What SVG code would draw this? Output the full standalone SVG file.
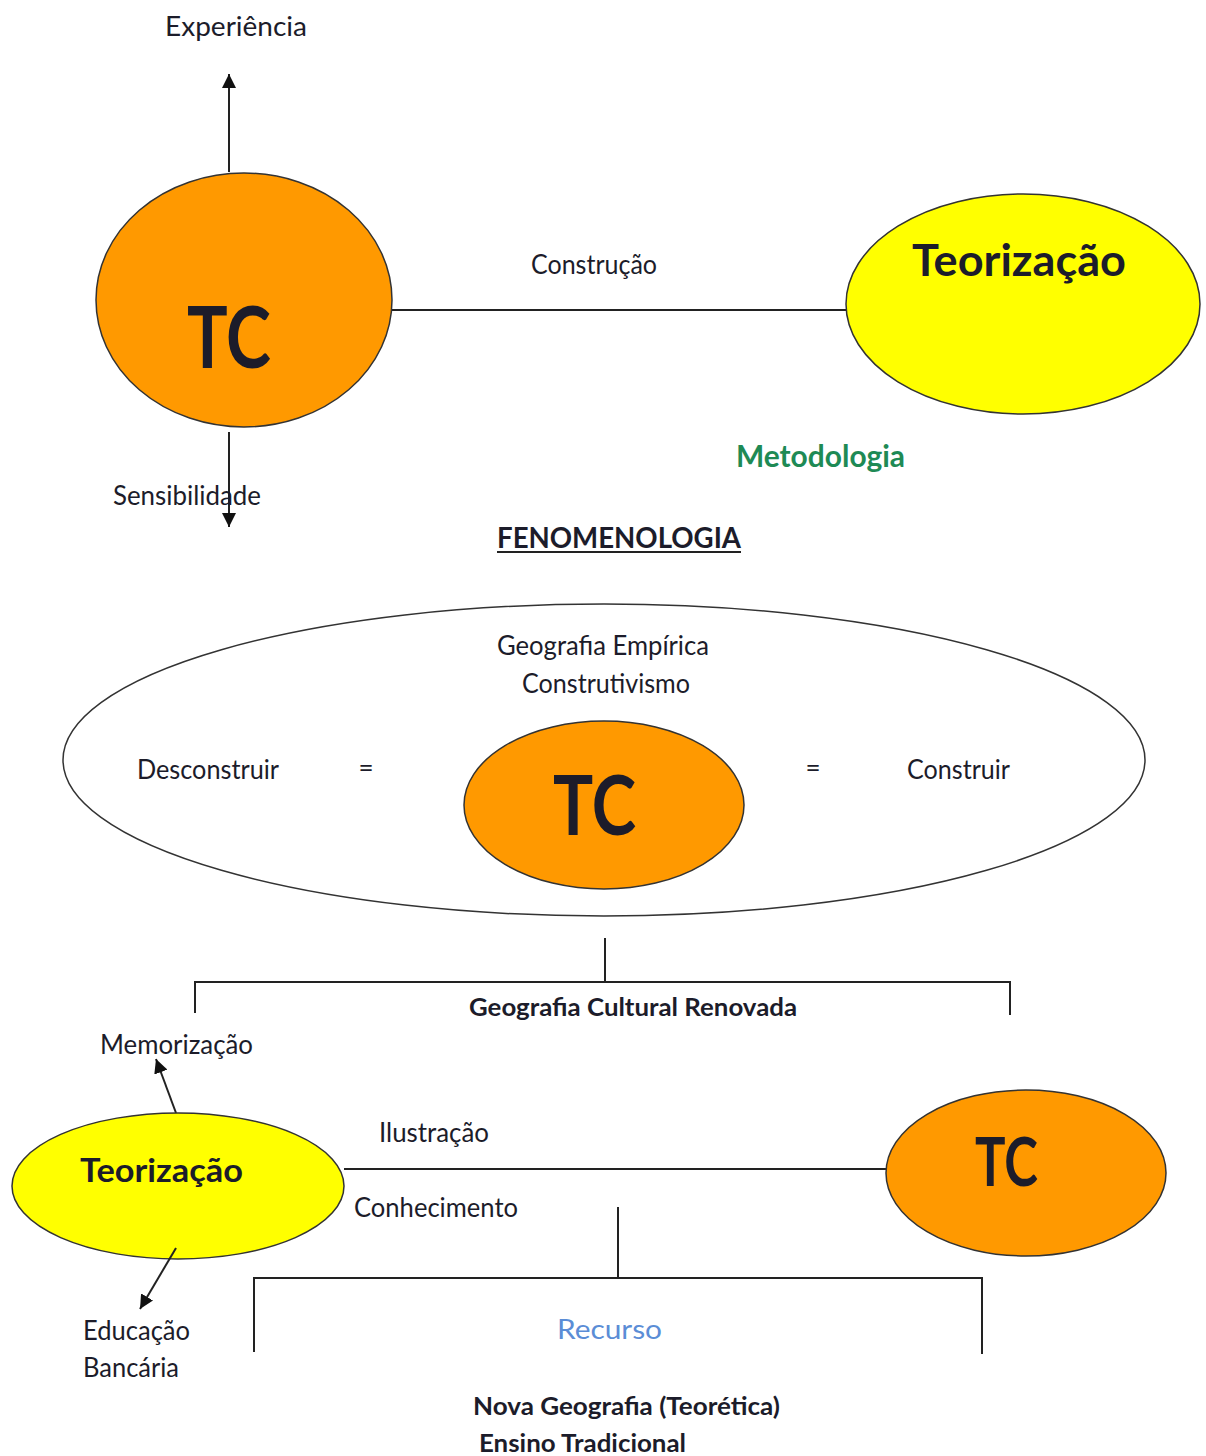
<svg xmlns="http://www.w3.org/2000/svg" width="1206" height="1456" viewBox="0 0 1206 1456">
<style>
text{font-family:Lato,"Open Sans","Liberation Sans",sans-serif;fill:#1c1c2a}
.n{font-size:26px}
.b{font-weight:bold}
.orange{fill:#FF9900;stroke:#333;stroke-width:1.5}
.yellow{fill:#FFFF00;stroke:#333;stroke-width:1.5}
.line{stroke:#222;stroke-width:2;fill:none}
</style>
<defs>
<marker id="ah" markerWidth="14" markerHeight="14" refX="12" refY="6" orient="auto" markerUnits="userSpaceOnUse" viewBox="0 0 12 12">
<path d="M0,0 L12,6 L0,12 z" fill="#111"/>
</marker>
</defs>
<rect width="1206" height="1456" fill="#fff"/>
<g id="connectors">
<line class="line" x1="229" y1="172" x2="229" y2="74" marker-end="url(#ah)"/>
<line class="line" x1="229" y1="432" x2="229" y2="527" marker-end="url(#ah)"/>
<line class="line" x1="383" y1="310" x2="848" y2="310"/>
<line class="line" x1="605" y1="938" x2="605" y2="982"/>
<polyline class="line" points="195,1013 195,982 1010,982 1010,1015"/>
<line class="line" x1="176" y1="1113" x2="156" y2="1059" marker-end="url(#ah)"/>
<line class="line" x1="344" y1="1169" x2="886" y2="1169"/>
<line class="line" x1="618" y1="1207" x2="618" y2="1278"/>
<polyline class="line" points="254,1352 254,1278 982,1278 982,1354"/>
<line x1="497" y1="552" x2="741" y2="552" stroke="#222" stroke-width="2"/>
</g>
<g id="tc-top">
<ellipse class="orange" cx="244" cy="300" rx="148" ry="127"/>
<text x="187" y="368" class="b" font-size="86" textLength="84" lengthAdjust="spacingAndGlyphs">TC</text>
</g>
<g id="teorizacao-top">
<ellipse class="yellow" cx="1023" cy="304" rx="177" ry="110"/>
<text x="912" y="276" class="b" font-size="44" textLength="214" lengthAdjust="spacingAndGlyphs">Teorização</text>
</g>
<g id="labels-top">
<text x="165" y="36" class="n" textLength="142" lengthAdjust="spacingAndGlyphs">Experiência</text>
<text x="531" y="274" class="n" textLength="126" lengthAdjust="spacingAndGlyphs">Construção</text>
<text x="736" y="467" class="b" font-size="30" style="fill:#1E8A55" textLength="169" lengthAdjust="spacingAndGlyphs">Metodologia</text>
<text x="113" y="505" class="n" textLength="148" lengthAdjust="spacingAndGlyphs">Sensibilidade</text>
<text x="497" y="548" class="b" font-size="28" textLength="244" lengthAdjust="spacingAndGlyphs">FENOMENOLOGIA</text>
</g>
<g id="big-ellipse">
<ellipse cx="604" cy="760" rx="541" ry="156" fill="#fff" stroke="#333" stroke-width="1.5"/>
<text x="497" y="655" class="n" textLength="212" lengthAdjust="spacingAndGlyphs">Geografia Empírica</text>
<text x="522" y="693" class="n" textLength="168" lengthAdjust="spacingAndGlyphs">Construtivismo</text>
<text x="137" y="779" class="n" textLength="142" lengthAdjust="spacingAndGlyphs">Desconstruir</text>
<text x="366" y="777" class="n" text-anchor="middle">=</text>
<text x="813" y="777" class="n" text-anchor="middle">=</text>
<text x="907" y="779" class="n" textLength="103" lengthAdjust="spacingAndGlyphs">Construir</text>
</g>
<g id="tc-mid">
<ellipse class="orange" cx="604" cy="805" rx="140" ry="84"/>
<text x="553" y="835" class="b" font-size="82" textLength="83" lengthAdjust="spacingAndGlyphs">TC</text>
</g>
<g id="labels-mid">
<text x="469" y="1016" class="b" font-size="25" textLength="328" lengthAdjust="spacingAndGlyphs">Geografia Cultural Renovada</text>
<text x="100" y="1054" class="n" textLength="153" lengthAdjust="spacingAndGlyphs">Memorização</text>
</g>
<g id="teorizacao-bottom">
<ellipse class="yellow" cx="178" cy="1186" rx="166" ry="73"/>
<text x="80" y="1182" class="b" font-size="33" textLength="163" lengthAdjust="spacingAndGlyphs">Teorização</text>
</g>
<g id="connector-educacao">
<line class="line" x1="176" y1="1248" x2="140" y2="1309" marker-end="url(#ah)"/>
</g>
<g id="tc-bottom">
<ellipse class="orange" cx="1026" cy="1173" rx="140" ry="83"/>
<text x="975" y="1186" class="b" font-size="66" textLength="63" lengthAdjust="spacingAndGlyphs">TC</text>
</g>
<g id="labels-bottom">
<text x="379" y="1142" class="n" textLength="110" lengthAdjust="spacingAndGlyphs">Ilustração</text>
<text x="354" y="1217" class="n" textLength="164" lengthAdjust="spacingAndGlyphs">Conhecimento</text>
<text x="83" y="1340" class="n" textLength="107" lengthAdjust="spacingAndGlyphs">Educação</text>
<text x="83" y="1377" class="n" textLength="96" lengthAdjust="spacingAndGlyphs">Bancária</text>
<text x="557" y="1339" font-size="27" style="fill:#5B8DD6" textLength="105" lengthAdjust="spacingAndGlyphs">Recurso</text>
<text x="473" y="1415" class="b" font-size="25" textLength="307" lengthAdjust="spacingAndGlyphs">Nova Geografia (Teorética)</text>
<text x="479" y="1452" class="b" font-size="25" textLength="207" lengthAdjust="spacingAndGlyphs">Ensino Tradicional</text>
</g>
</svg>
